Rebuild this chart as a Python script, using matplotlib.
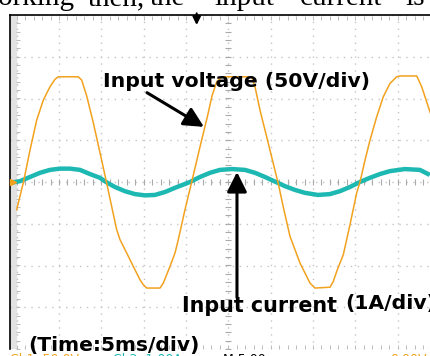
import matplotlib
matplotlib.use('Agg')

import matplotlib.pyplot as plt
import numpy as np

# scope capture: 5 ms/div, voltage 50 V/div, current 1 A/div
timeV = [0.0, 0.78, 1.57, 2.36, 3.14, 3.93, 4.52, 4.91, 7.28, 7.68, 8.27, 9.05,
         9.84, 10.6, 11.02, 11.81, 12.2, 12.99, 13.77, 14.56, 14.95, 15.35,
         16.93, 17.32, 18.11, 18.7, 19.09, 19.88, 20.67, 21.65, 22.54, 23.07,
         23.62, 24.25, 27.76, 28.15, 28.74, 29.53, 30.31, 30.9, 31.49, 32.28,
         33.46, 34.64, 35.23, 37.01, 37.4, 37.8, 38.58, 39.37, 40.16, 40.55,
         41.14, 41.73, 42.52, 43.3, 44.09, 44.88, 45.27, 47.25, 47.84, 48.62,
         49.05]
voltage = [-33, -1, 38, 74, 98, 114, 123, 126, 126, 122, 103, 71,
           35, 0, -20, -57, -69, -85, -101, -117, -123, -127,
           -127, -121, -101, -85, -69, -33, 0, 42, 79, 103,
           120, 126, 126, 114, 86, 54, 22, -2, -30, -65,
           -97, -121, -127, -126, -119, -107, -87, -51, -13, 0,
           26, 50, 78, 102, 118, 126, 127, 127, 114, 90,
           77]

timeI = [-0.79, 0.39, 1.57, 2.75, 3.93, 5.11, 6.3, 7.48, 8.66, 9.84, 10.55,
         11.61, 12.79, 13.97, 15.15, 16.33, 17.51, 18.69, 20.47, 21.65, 22.83,
         24.01, 25.43, 26.96, 28.15, 29.33, 30.62, 31.69, 32.87, 34.05, 35.58,
         37.0, 38.18, 39.36, 40.54, 41.72, 42.9, 44.08, 45.85, 47.62, 48.8]
current = [-0.02, 0.02, 0.12, 0.22, 0.29, 0.32, 0.32, 0.29, 0.19, 0.10, 0.0,
           -0.12, -0.22, -0.29, -0.32, -0.31, -0.24, -0.14, 0.0, 0.12, 0.22,
           0.29, 0.31, 0.29, 0.22, 0.12, 0.0, -0.10, -0.19, -0.26, -0.31,
           -0.29, -0.22, -0.12, 0.0, 0.10, 0.19, 0.26, 0.31, 0.29, 0.17]

# words of the page sentence above the figure (cut by the crop)
topWords = ['working', 'then,', 'the', 'input', 'current', 'is']
topWordX = [-22, 88, 150, 214, 300, 405]

ORANGE = '#F2A21E'
CYAN = '#1DB8B2'
GRID = '#c4c4c4'
BOLD = 'DejaVu Sans'

fig = plt.figure(figsize=(4.3, 3.56), dpi=100)
fig.patch.set_facecolor('white')

# screen area in pixels: x 10..440, y 15..349
ax = fig.add_axes([10 / 430, 7 / 356, 430 / 430, 334 / 356])
ax.set_xlim(-0.79, 50)
ax.set_ylim(-4, 4)
ax.set_xticks(np.arange(0, 51, 5))
ax.set_yticks(np.arange(-4, 5, 1))
ax.tick_params(length=0, labelbottom=False, labelleft=False)
ax.grid(True, color=GRID, linestyle=(0, (1, 4)), linewidth=1)
for side in ['right', 'bottom']:
    ax.spines[side].set_visible(False)
for side in ['top', 'left']:
    ax.spines[side].set_color('black')
    ax.spines[side].set_linewidth(1.2)
ax.axvspan(-0.79, -0.05, color='#e2e2e2', zorder=0)

# minor tick marks on the centre cross and the edges
tm = np.arange(0, 50.1, 1)
vm = np.arange(-4, 4.01, 0.2)
ax.plot(tm, np.zeros_like(tm), ls='none', marker='|', ms=5, mew=0.8, color='#aaaaaa')
ax.plot(np.full_like(vm, 25), vm, ls='none', marker='_', ms=5, mew=0.8, color='#aaaaaa')
ax.plot(tm, np.full_like(tm, 3.93), ls='none', marker='|', ms=3, mew=0.7, color='#bbbbbb')
ax.plot(tm, np.full_like(tm, -3.95), ls='none', marker='|', ms=3, mew=0.7, color='#bbbbbb')
ax.plot(np.full_like(vm, 0.15), vm, ls='none', marker='_', ms=3, mew=0.7, color='#bbbbbb')

ax.plot(timeI, current, color=CYAN, linewidth=3.2, solid_capstyle='butt', zorder=3)

ax2 = ax.twinx()
ax2.set_ylim(-200, 200)
ax2.axis('off')
ax2.plot(timeV, voltage, color=ORANGE, linewidth=1.1, zorder=4)
ax2.plot(-0.45, 0, marker='>', color=ORANGE, ms=5, clip_on=False)

# trigger marker
ax2.annotate('', xy=(21.26, 188), xytext=(21.26, 202), annotation_clip=False,
             arrowprops=dict(arrowstyle='-|>', color='black', lw=1.5,
                             mutation_scale=12, shrinkA=0, shrinkB=0))

# callout arrows
ax2.annotate('', xy=(22.12, 66), xytext=(15.39, 107),
             arrowprops=dict(arrowstyle='-|>', color='black', lw=2.2,
                             mutation_scale=30, shrinkA=0, shrinkB=0))
ax2.annotate('', xy=(26.02, 12), xytext=(26.02, -138),
             arrowprops=dict(arrowstyle='-|>', color='black', lw=2.2,
                             mutation_scale=30, shrinkA=0, shrinkB=0))

def px(x, y):
    return x / 430, 1 - y / 356

fig.text(*px(103, 86.7), 'Input voltage (50V/div)', fontsize=14.7,
         fontweight='bold', family=BOLD, va='baseline', ha='left')
fig.text(*px(181.7, 311.7), 'Input current', fontsize=14.9,
         fontweight='bold', family=BOLD, va='baseline', ha='left')
fig.text(*px(345, 309), '(1A/div)', fontsize=14.7,
         fontweight='bold', family=BOLD, va='baseline', ha='left')
fig.text(*px(28.3, 351), '(Time:5ms/div)', fontsize=14.6,
         fontweight='bold', family=BOLD, va='baseline', ha='left')

for word, wx in zip(topWords, topWordX):
    fig.text(*px(wx, 5), word, fontsize=21, family='Liberation Serif',
             va='baseline', ha='left')

# scope readout below the screen, cut by the crop
fig.text(*px(10, 353), 'Ch1  50.0V', fontsize=9, color=ORANGE, va='top', ha='left')
fig.text(*px(113, 353), 'Ch2  1.00A', fontsize=9, color=CYAN, va='top', ha='left')
fig.text(*px(223, 353), 'M 5.00ms', fontsize=9, color='black', va='top', ha='left')
fig.text(*px(390, 353), '0.00V', fontsize=9, color=ORANGE, va='top', ha='left')

fig.savefig('out.png', dpi=100)
